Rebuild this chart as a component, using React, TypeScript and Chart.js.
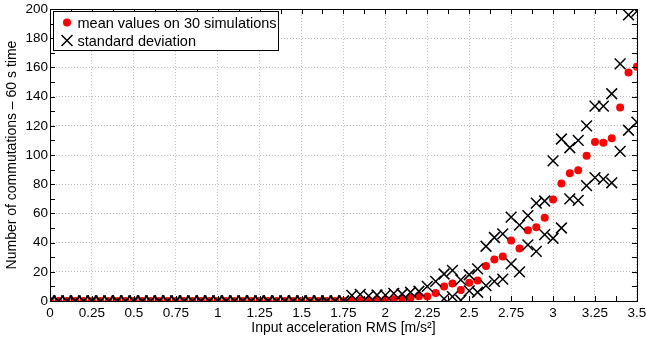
import React, { useEffect, useRef } from "react";
import { Chart, registerables } from "chart.js";

Chart.register(...registerables);

// Input acceleration RMS levels [m/s^2]
const accelerationRms: number[] = [
  0, 0.05, 0.1, 0.15, 0.2, 0.25, 0.3, 0.35, 0.4, 0.45, 0.5, 0.55, 0.6, 0.65, 0.7, 0.75,
  0.8, 0.85, 0.9, 0.95, 1, 1.05, 1.1, 1.15, 1.2, 1.25, 1.3, 1.35, 1.4, 1.45, 1.5, 1.55,
  1.6, 1.65, 1.7, 1.75, 1.8, 1.85, 1.9, 1.95, 2, 2.05, 2.1, 2.15, 2.2, 2.25, 2.3, 2.35,
  2.4, 2.45, 2.5, 2.55, 2.6, 2.65, 2.7, 2.75, 2.8, 2.85, 2.9, 2.95, 3, 3.05, 3.1, 3.15,
  3.2, 3.25, 3.3, 3.35, 3.4, 3.45, 3.5,
];

// Mean number of commutations over 30 simulations (60 s each)
const meanCommutations: number[] = [
  0, 0, 0, 0, 0, 0, 0, 0, 0, 0, 0, 0, 0, 0, 0, 0,
  0, 0, 0, 0, 0, 0, 0, 0, 0, 0, 0, 0, 0, 0, 0, 0,
  0, 0, 0, 0, 0.3, 0.5, 0.5, 0.6, 1, 1.2, 1.8, 2, 3.2, 3, 5.5, 10,
  12, 7.5, 12.5, 14, 24, 28.5, 30.5, 41.5, 36, 48.5, 50.5, 57, 69.5, 80.5, 87.5, 89.5,
  99.5, 109, 108.5, 111.5, 132.5, 156.5, 160.5,
];

// Standard deviation of the number of commutations
const stdCommutations: number[] = [
  0, 0, 0, 0, 0, 0, 0, 0, 0, 0, 0, 0, 0, 0, 0, 0,
  0, 0, 0, 0, 0, 0, 0, 0, 0, 0, 0, 0, 0, 0, 0, 0,
  0, 0, 0, 0, 3.5, 4, 3, 3.5, 3, 4, 3, 4, 3.5, 7, 8, 8.5,
  9, 7, 5.5, 8, 13.5, 15, 15.5, 16, 16, 10, 16.5, 11.5, 26.5, 30.5, 17.5, 20.5,
  20.5, 24.5, 25, 30.5, 30, 39.5, 38,
];

const xTickLabels: string[] = [
  "0", "0.25", "0.5", "0.75", "1", "1.25", "1.5", "1.75",
  "2", "2.25", "2.5", "2.75", "3", "3.25", "3.5",
];
const yTickLabels: string[] = ["0", "20", "40", "60", "80", "100", "120", "140", "160", "180", "200"];

const FONT = "'Liberation Sans', Arial, Helvetica, sans-serif";
const MEAN_LABEL = "mean values on 30 simulations";
const STD_LABEL = "standard deviation";

// Draws the boxed frame with inward major/minor ticks on all four sides, and the legend box.
const framePlugin = {
  id: "matlabFrame",
  afterDatasetsDraw(chart: any) {
    const { ctx, chartArea } = chart;
    const xs = chart.scales.x;
    const ys = chart.scales.y;
    const { left, right, top, bottom } = chartArea;
    const tickLen = 5;
    ctx.save();
    ctx.strokeStyle = "#000";
    ctx.lineWidth = 1;
    ctx.beginPath();
    for (let v = xs.min; v <= xs.max + 1e-9; v += 0.125) {
      const px = Math.round(xs.getPixelForValue(v)) + 0.5;
      ctx.moveTo(px, bottom);
      ctx.lineTo(px, bottom - tickLen);
      ctx.moveTo(px, top);
      ctx.lineTo(px, top + tickLen);
    }
    for (let v = ys.min; v <= ys.max + 1e-9; v += 10) {
      const py = Math.round(ys.getPixelForValue(v)) + 0.5;
      ctx.moveTo(left, py);
      ctx.lineTo(left + tickLen, py);
      ctx.moveTo(right, py);
      ctx.lineTo(right - tickLen, py);
    }
    ctx.stroke();
    ctx.strokeRect(Math.round(left) + 0.5, Math.round(top) + 0.5, Math.round(right - left), Math.round(bottom - top));
    ctx.restore();
  },
  afterDraw(chart: any) {
    const { ctx, chartArea } = chart;
    const bx = Math.round(chartArea.left) + 3.5;
    const by = Math.round(chartArea.top) + 2.5;
    const bw = 225;
    const bh = 39;
    ctx.save();
    ctx.fillStyle = "#fff";
    ctx.fillRect(bx, by, bw, bh);
    ctx.strokeStyle = "#000";
    ctx.lineWidth = 1;
    ctx.strokeRect(bx, by, bw, bh);

    const mx = bx + 13.5;
    const row1 = by + 11;
    const row2 = by + 29;
    ctx.fillStyle = "#ff0000";
    ctx.beginPath();
    ctx.arc(mx, row1, 4, 0, Math.PI * 2);
    ctx.fill();

    ctx.strokeStyle = "#000";
    ctx.lineWidth = 1.5;
    ctx.beginPath();
    const h = 5.5;
    ctx.moveTo(mx - h, row2 - h);
    ctx.lineTo(mx + h, row2 + h);
    ctx.moveTo(mx + h, row2 - h);
    ctx.lineTo(mx - h, row2 + h);
    ctx.stroke();

    ctx.fillStyle = "#000";
    ctx.font = `14.5px ${FONT}`;
    ctx.textBaseline = "middle";
    ctx.textAlign = "left";
    ctx.fillText(MEAN_LABEL, bx + 24, row1 + 1);
    ctx.fillText(STD_LABEL, bx + 24, row2 + 1);
    ctx.restore();
  },
};

export default function App() {
  const canvasRef = useRef<HTMLCanvasElement | null>(null);

  useEffect(() => {
    const canvas = canvasRef.current;
    if (!canvas) return;

    const meanPoints = accelerationRms.map((x, i) => ({ x, y: meanCommutations[i] }));
    const stdPoints: { x: number; y: number }[] = [];
    accelerationRms.forEach((x, i) => {
      const m = meanCommutations[i];
      const s = stdCommutations[i];
      stdPoints.push({ x, y: m + s });
      if (m - s >= 0) stdPoints.push({ x, y: m - s });
    });

    const chart = new Chart(canvas, {
      type: "scatter",
      data: {
        datasets: [
          {
            label: STD_LABEL,
            data: stdPoints,
            pointStyle: "crossRot",
            pointRadius: 7.6,
            pointBorderWidth: 1.5,
            borderColor: "#000",
            backgroundColor: "#000",
            showLine: false,
          },
          {
            label: MEAN_LABEL,
            data: meanPoints,
            pointStyle: "circle",
            pointRadius: 4,
            pointBorderWidth: 0,
            borderColor: "#ff0000",
            backgroundColor: "#ff0000",
            showLine: false,
          },
        ],
      },
      options: {
        animation: false,
        responsive: false,
        devicePixelRatio: 1,
        layout: { padding: { left: 0, right: 9, top: 7, bottom: 0 } },
        plugins: {
          legend: { display: false },
          tooltip: { enabled: false },
        },
        scales: {
          x: {
            type: "linear",
            min: 0,
            max: 3.5,
            afterFit: (scale: any) => {
              scale.height = 44;
              scale.paddingLeft = 0;
              scale.paddingRight = 0;
            },
            ticks: {
              stepSize: 0.25,
              color: "#000",
              font: { family: FONT, size: 13.5 },
              padding: 4,
              maxRotation: 0,
              autoSkip: false,
              callback: (value: any) => xTickLabels[Math.round(Number(value) / 0.25)] ?? "",
            },
            grid: { color: "#bdbdbd", lineWidth: 1, drawTicks: false },
            border: { display: false, dash: [1, 2] },
            title: {
              display: true,
              text: "Input acceleration RMS [m/s²]",
              color: "#000",
              font: { family: FONT, size: 14 },
              padding: { top: 0, bottom: 8 },
            },
          },
          y: {
            type: "linear",
            min: 0,
            max: 200,
            afterFit: (scale: any) => {
              scale.width = 50;
              scale.paddingTop = 0;
              scale.paddingBottom = 0;
            },
            ticks: {
              stepSize: 20,
              color: "#000",
              font: { family: FONT, size: 13.5 },
              padding: 2,
              callback: (value: any) => yTickLabels[Math.round(Number(value) / 20)] ?? "",
            },
            grid: { color: "#bdbdbd", lineWidth: 1, drawTicks: false },
            border: { display: false, dash: [1, 2] },
            title: {
              display: true,
              text: "Number of commutations – 60 s time",
              color: "#000",
              font: { family: FONT, size: 14 },
              padding: { top: 4, bottom: 0 },
            },
          },
        },
      },
      plugins: [framePlugin],
    });

    return () => chart.destroy();
  }, []);

  return (
    <div style={{ position: "absolute", left: 0, top: 0, width: 646, height: 345, background: "#fff" }}>
      <canvas ref={canvasRef} width={646} height={345} style={{ display: "block" }} />
    </div>
  );
}
